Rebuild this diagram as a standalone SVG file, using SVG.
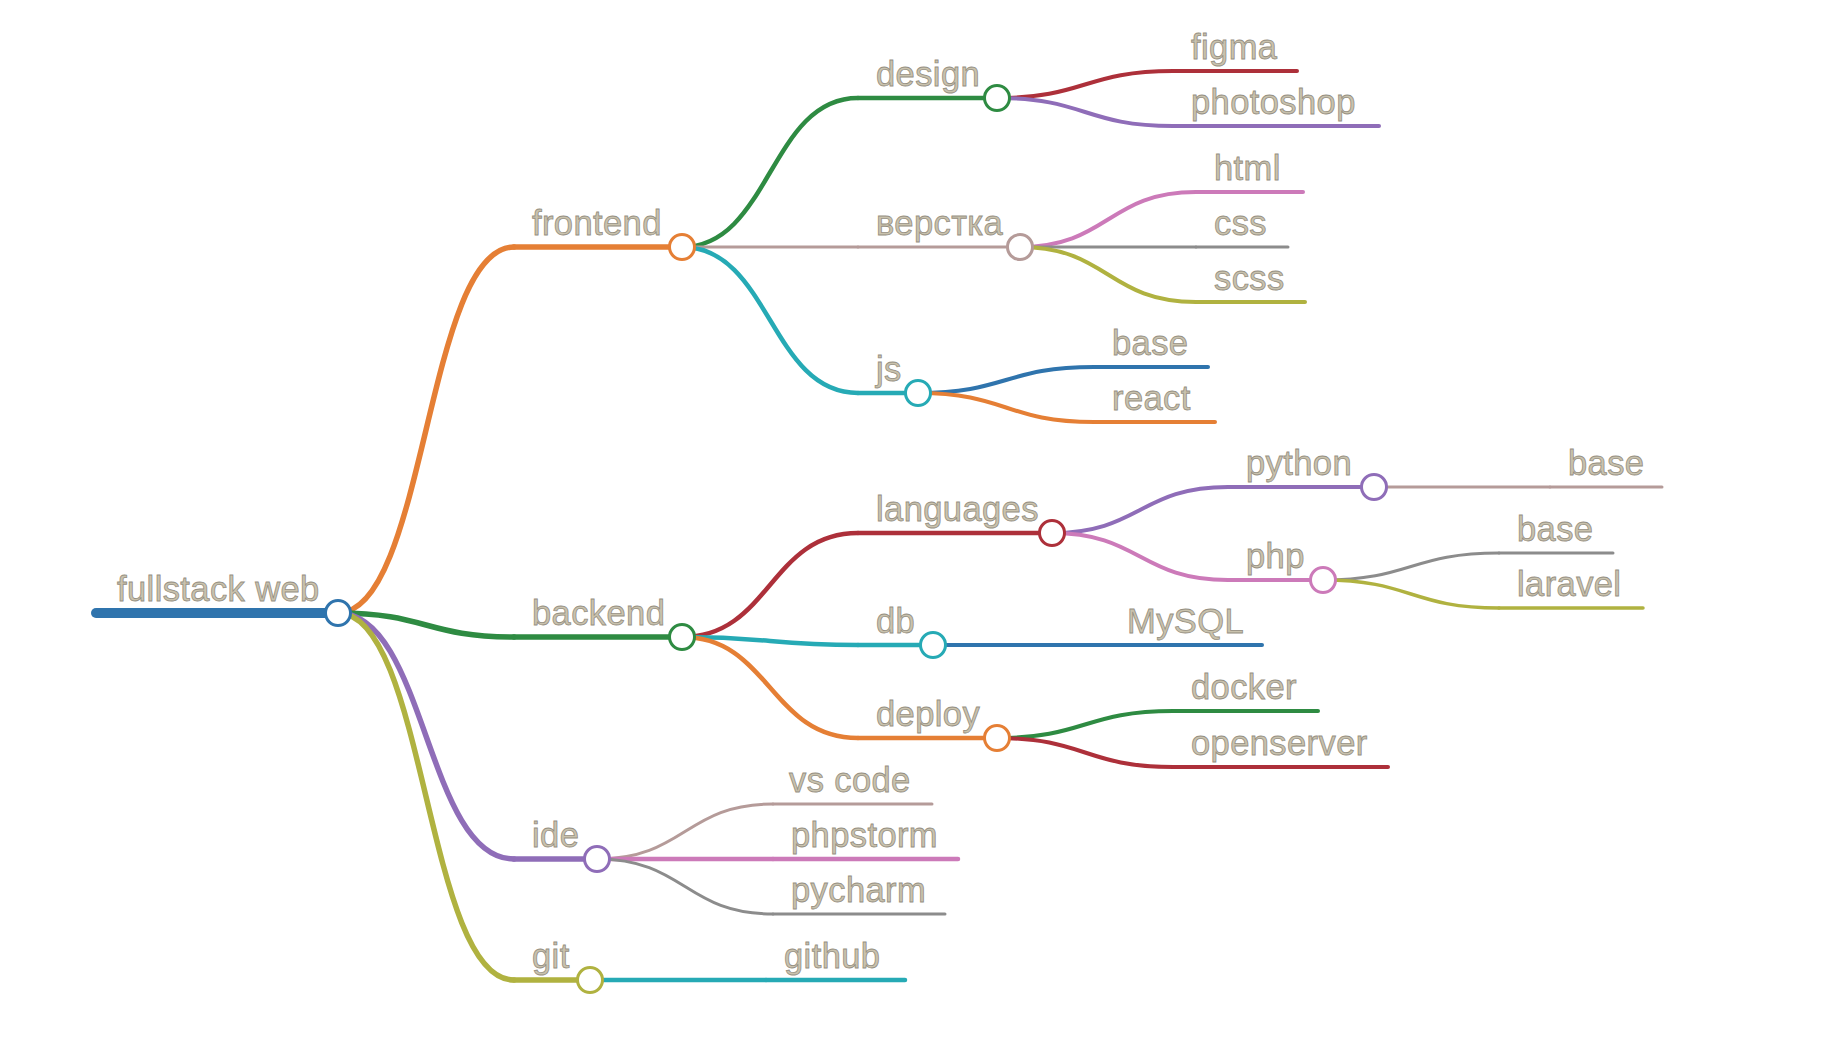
<svg xmlns="http://www.w3.org/2000/svg" width="1832" height="1037" viewBox="0 0 1832 1037">
<style>
  text { font-family: "Liberation Sans", Arial, sans-serif; font-size: 34.5px; letter-spacing: 0.4px; fill: #c9c2ad; stroke: #958f82; stroke-width: 0.8px; }
  .ln { fill: none; stroke-linecap: round; }
  .nd { fill: #ffffff; stroke-width: 3; }
  .c-blue { stroke: #2f74ad; }
  .c-orange { stroke: #e57f35; }
  .c-green { stroke: #2e8b42; }
  .c-red { stroke: #ad303a; }
  .c-purple { stroke: #8f6db8; }
  .c-brown { stroke: #b59b99; }
  .c-pink { stroke: #cc7ab9; }
  .c-gray { stroke: #8c8c8c; }
  .c-olive { stroke: #b0b240; }
  .c-cyan { stroke: #26aab5; }
  .d0 { stroke-width: 10; }
  .d1 { stroke-width: 5.5; }
  .d2 { stroke-width: 4.5; }
  .d3 { stroke-width: 4; }
  .d4 { stroke-width: 3.5; }
  .thin { stroke-width: 3; }
</style>
<rect width="1832" height="1037" fill="#ffffff"/>
<g id="connectors">
  <path class="ln d1 c-orange" d="M338,613 C426,613 426,247 514,247"/>
  <path class="ln d1 c-green" d="M338,613 C426,613 426,637 514,637"/>
  <path class="ln d1 c-purple" d="M338,613 C426,613 426,859 514,859"/>
  <path class="ln d1 c-olive" d="M338,613 C426,613 426,980 514,980"/>
  <path class="ln d2 c-green" d="M682,247 C770,247 770,98 858,98"/>
  <path class="ln thin c-brown" d="M682,247 L858,247"/>
  <path class="ln d2 c-cyan" d="M682,247 C770,247 770,393 858,393"/>
  <path class="ln d2 c-red" d="M682,637 C770,637 770,533 858,533"/>
  <path class="ln d2 c-cyan" d="M682,637 C770,637 770,645 858,645"/>
  <path class="ln d2 c-orange" d="M682,637 C770,637 770,738 858,738"/>
  <path class="ln thin c-brown" d="M597,859 C685,859 685,804 773,804"/>
  <path class="ln d2 c-pink" d="M597,859 L773,859"/>
  <path class="ln thin c-gray" d="M597,859 C685,859 685,914 773,914"/>
  <path class="ln d2 c-cyan" d="M590,980 L766,980"/>
  <path class="ln d3 c-red" d="M997,98 C1085,98 1085,71 1173,71"/>
  <path class="ln d3 c-purple" d="M997,98 C1085,98 1085,126 1173,126"/>
  <path class="ln d3 c-pink" d="M1020,247 C1108,247 1108,192 1196,192"/>
  <path class="ln thin c-gray" d="M1020,247 L1196,247"/>
  <path class="ln d3 c-olive" d="M1020,247 C1108,247 1108,302 1196,302"/>
  <path class="ln d3 c-blue" d="M918,393 C1006,393 1006,367 1094,367"/>
  <path class="ln d3 c-orange" d="M918,393 C1006,393 1006,422 1094,422"/>
  <path class="ln d3 c-purple" d="M1052,533 C1140,533 1140,487 1228,487"/>
  <path class="ln d3 c-pink" d="M1052,533 C1140,533 1140,580 1228,580"/>
  <path class="ln d3 c-blue" d="M933,645 L1109,645"/>
  <path class="ln d3 c-green" d="M997,738 C1085,738 1085,711 1173,711"/>
  <path class="ln d3 c-red" d="M997,738 C1085,738 1085,767 1173,767"/>
  <path class="ln thin c-brown" d="M1374,487 L1550,487"/>
  <path class="ln thin c-gray" d="M1323,580 C1411,580 1411,553 1499,553"/>
  <path class="ln d4 c-olive" d="M1323,580 C1411,580 1411,608 1499,608"/>
</g>
<g id="nodes">
  <g id="n-root"><path class="ln d0 c-blue" d="M96,613 H338"/><text x="117" y="601">fullstack web</text><circle class="nd c-blue" cx="338" cy="613" r="12.5"/></g>
  <g id="n-frontend"><path class="ln d1 c-orange" d="M514,247 H682"/><text x="532" y="235">frontend</text><circle class="nd c-orange" cx="682" cy="247" r="12.5"/></g>
  <g id="n-backend"><path class="ln d1 c-green" d="M514,637 H682"/><text x="532" y="625">backend</text><circle class="nd c-green" cx="682" cy="637" r="12.5"/></g>
  <g id="n-ide"><path class="ln d1 c-purple" d="M514,859 H597"/><text x="532" y="847">ide</text><circle class="nd c-purple" cx="597" cy="859" r="12.5"/></g>
  <g id="n-git"><path class="ln d1 c-olive" d="M514,980 H590"/><text x="532" y="968">git</text><circle class="nd c-olive" cx="590" cy="980" r="12.5"/></g>

  <g id="n-design"><path class="ln d2 c-green" d="M858,98 H997"/><text x="876" y="86">design</text><circle class="nd c-green" cx="997" cy="98" r="12.5"/></g>
  <g id="n-verstka"><path class="ln thin c-brown" d="M858,247 H1020"/><text x="876" y="235">верстка</text><circle class="nd c-brown" cx="1020" cy="247" r="12.5"/></g>
  <g id="n-js"><path class="ln d2 c-cyan" d="M858,393 H918"/><text x="876" y="381">js</text><circle class="nd c-cyan" cx="918" cy="393" r="12.5"/></g>
  <g id="n-languages"><path class="ln d2 c-red" d="M858,533 H1052"/><text x="876" y="521">languages</text><circle class="nd c-red" cx="1052" cy="533" r="12.5"/></g>
  <g id="n-db"><path class="ln d2 c-cyan" d="M858,645 H933"/><text x="876" y="633">db</text><circle class="nd c-cyan" cx="933" cy="645" r="12.5"/></g>
  <g id="n-deploy"><path class="ln d2 c-orange" d="M858,738 H997"/><text x="876" y="726">deploy</text><circle class="nd c-orange" cx="997" cy="738" r="12.5"/></g>

  <g id="n-vscode"><path class="ln thin c-brown" d="M773,804 H932"/><text x="789" y="792">vs code</text></g>
  <g id="n-phpstorm"><path class="ln d2 c-pink" d="M773,859 H958"/><text x="791" y="847">phpstorm</text></g>
  <g id="n-pycharm"><path class="ln thin c-gray" d="M773,914 H945"/><text x="791" y="902">pycharm</text></g>
  <g id="n-github"><path class="ln d2 c-cyan" d="M766,980 H905"/><text x="784" y="968">github</text></g>

  <g id="n-figma"><path class="ln d3 c-red" d="M1173,71 H1297"/><text x="1191" y="59">figma</text></g>
  <g id="n-photoshop"><path class="ln d3 c-purple" d="M1173,126 H1379"/><text x="1191" y="114">photoshop</text></g>
  <g id="n-html"><path class="ln d3 c-pink" d="M1196,192 H1303"/><text x="1214" y="180">html</text></g>
  <g id="n-css"><path class="ln thin c-gray" d="M1196,247 H1288"/><text x="1214" y="235">css</text></g>
  <g id="n-scss"><path class="ln d3 c-olive" d="M1196,302 H1305"/><text x="1214" y="290">scss</text></g>
  <g id="n-js-base"><path class="ln d3 c-blue" d="M1094,367 H1208"/><text x="1112" y="355">base</text></g>
  <g id="n-react"><path class="ln d3 c-orange" d="M1094,422 H1215"/><text x="1112" y="410">react</text></g>
  <g id="n-python"><path class="ln d3 c-purple" d="M1228,487 H1374"/><text x="1246" y="475">python</text><circle class="nd c-purple" cx="1374" cy="487" r="12.5"/></g>
  <g id="n-php"><path class="ln d3 c-pink" d="M1228,580 H1323"/><text x="1246" y="568">php</text><circle class="nd c-pink" cx="1323" cy="580" r="12.5"/></g>
  <g id="n-mysql"><path class="ln d3 c-blue" d="M1109,645 H1262"/><text x="1127" y="633">MySQL</text></g>
  <g id="n-docker"><path class="ln d3 c-green" d="M1173,711 H1318"/><text x="1191" y="699">docker</text></g>
  <g id="n-openserver"><path class="ln d3 c-red" d="M1173,767 H1388"/><text x="1191" y="755">openserver</text></g>

  <g id="n-python-base"><path class="ln thin c-brown" d="M1550,487 H1662"/><text x="1568" y="475">base</text></g>
  <g id="n-php-base"><path class="ln thin c-gray" d="M1499,553 H1613"/><text x="1517" y="541">base</text></g>
  <g id="n-laravel"><path class="ln d4 c-olive" d="M1499,608 H1643"/><text x="1517" y="596">laravel</text></g>
</g>
</svg>
